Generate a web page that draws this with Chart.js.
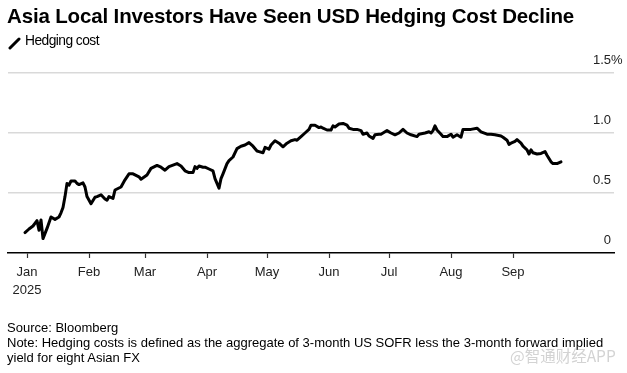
<!DOCTYPE html>
<html>
<head>
<meta charset="utf-8">
<script src="https://cdn.jsdelivr.net/npm/chart.js@4.4.1/dist/chart.umd.min.js"></script>
<style>
  html, body { margin: 0; padding: 0; background: #fff; }
  body { width: 627px; height: 373px; position: relative; overflow: hidden; font-family: "Liberation Sans", Arial, sans-serif; }
  #wrap { position: absolute; left: 0; top: 0; width: 627px; height: 373px; }
  .title { position: absolute; left: 7px; top: 4px; font-weight: bold; font-size: 20.5px; color: #000; letter-spacing: -0.15px; white-space: nowrap; }
  .legend { position: absolute; left: 8px; top: 33px; font-size: 13.8px; color: #000; letter-spacing: -0.55px; white-space: nowrap; }
  .legend svg { position: absolute; left: 0; top: 3px; }
  .legend span { position: absolute; left: 17px; top: 0; }
  .foot { position: absolute; left: 7px; font-size: 13px; color: #000; letter-spacing: 0; white-space: nowrap; }
  .wm { position: absolute; left: 510px; top: 344px; font-family: "Noto Sans CJK SC", sans-serif; font-size: 15.5px; color: #d3d3d3; white-space: nowrap; }
</style>
</head>
<body>
<div id="wrap"><canvas id="c" width="627" height="373"></canvas></div>
<div class="title">Asia Local Investors Have Seen USD Hedging Cost Decline</div>
<div class="legend"><svg width="14" height="14"><line x1="2" y1="12" x2="11" y2="3" stroke="#000" stroke-width="3" stroke-linecap="round"/></svg><span>Hedging cost</span></div>
<div class="foot" style="top:320px">Source: Bloomberg</div>
<div class="foot" style="top:335px">Note: Hedging costs is defined as the aggregate of 3-month US SOFR less the 3-month forward implied</div>
<div class="foot" style="top:350px">yield for eight Asian FX</div>
<div class="wm">@智通财经APP</div>
<script>
// ---- data ----
const dates = [
 "2024-12-31","2025-01-02","2025-01-04","2025-01-06","2025-01-07","2025-01-08","2025-01-09","2025-01-11",
 "2025-01-13","2025-01-15","2025-01-17","2025-01-18","2025-01-19","2025-01-20","2025-01-21","2025-01-22",
 "2025-01-23","2025-01-25","2025-01-26","2025-01-27","2025-01-29","2025-01-30","2025-01-31","2025-02-02",
 "2025-02-04","2025-02-05","2025-02-07","2025-02-09","2025-02-10","2025-02-11","2025-02-13","2025-02-14",
 "2025-02-17","2025-02-19","2025-02-21","2025-02-23","2025-02-26","2025-02-27","2025-03-02","2025-03-04",
 "2025-03-07","2025-03-09","2025-03-11","2025-03-13","2025-03-17","2025-03-19","2025-03-21","2025-03-23",
 "2025-03-25","2025-03-26","2025-03-27","2025-03-28","2025-03-30","2025-03-31","2025-04-02","2025-04-04",
 "2025-04-05","2025-04-07","2025-04-08","2025-04-09","2025-04-11","2025-04-12","2025-04-14","2025-04-16",
 "2025-04-18","2025-04-20","2025-04-22","2025-04-24","2025-04-26","2025-04-27","2025-04-29","2025-04-30",
 "2025-05-02","2025-05-03","2025-05-05","2025-05-07","2025-05-09","2025-05-11","2025-05-13","2025-05-15",
 "2025-05-16","2025-05-18","2025-05-20","2025-05-22","2025-05-23","2025-05-25","2025-05-27","2025-05-28",
 "2025-05-29","2025-05-31","2025-06-02","2025-06-03","2025-06-04","2025-06-06","2025-06-08","2025-06-10",
 "2025-06-11","2025-06-13","2025-06-15","2025-06-17","2025-06-18","2025-06-20","2025-06-21","2025-06-23",
 "2025-06-24","2025-06-26","2025-06-27","2025-06-29","2025-06-30","2025-07-02","2025-07-04","2025-07-06",
 "2025-07-08","2025-07-10","2025-07-12","2025-07-15","2025-07-16","2025-07-19","2025-07-21","2025-07-22",
 "2025-07-23","2025-07-24","2025-07-25","2025-07-27","2025-07-28","2025-07-30","2025-08-01","2025-08-02",
 "2025-08-04","2025-08-06","2025-08-07","2025-08-09","2025-08-11","2025-08-14","2025-08-16","2025-08-19",
 "2025-08-21","2025-08-23","2025-08-26","2025-08-27","2025-08-29","2025-08-30","2025-08-31","2025-09-02",
 "2025-09-03","2025-09-05","2025-09-06","2025-09-08","2025-09-09","2025-09-10","2025-09-11","2025-09-13",
 "2025-09-15","2025-09-17","2025-09-18","2025-09-20","2025-09-21","2025-09-23","2025-09-25"
];
const hedgingCost = [
 0.17,0.20,0.225,0.27,0.19,0.275,0.12,0.205,
 0.30,0.28,0.30,0.335,0.38,0.47,0.58,0.565,
 0.60,0.60,0.58,0.57,0.585,0.55,0.47,0.41,
 0.465,0.47,0.485,0.45,0.44,0.47,0.455,0.525,
 0.55,0.61,0.66,0.66,0.635,0.615,0.65,0.705,
 0.73,0.715,0.69,0.72,0.745,0.725,0.685,0.67,
 0.67,0.72,0.705,0.725,0.715,0.715,0.70,0.685,
 0.62,0.54,0.62,0.66,0.745,0.77,0.80,0.87,
 0.89,0.90,0.92,0.89,0.85,0.845,0.835,0.88,
 0.865,0.90,0.935,0.915,0.885,0.915,0.935,0.945,
 0.94,0.97,1.00,1.03,1.065,1.065,1.045,1.05,
 1.04,1.025,1.025,1.06,1.05,1.075,1.08,1.065,
 1.04,1.03,1.03,1.02,0.99,1.00,0.975,0.955,
 0.985,0.99,0.99,1.01,1.02,1.00,0.985,1.00,
 1.03,1.00,0.985,0.97,0.99,1.00,1.01,1.00,
 1.02,1.06,1.025,0.99,0.97,0.97,0.99,0.965,
 0.985,0.965,1.03,1.03,1.03,1.04,1.01,0.99,
 0.99,0.985,0.975,0.965,0.94,0.905,0.915,0.93,
 0.945,0.915,0.89,0.86,0.825,0.86,0.835,0.825,
 0.83,0.845,0.815,0.76,0.745,0.745,0.76
];
const monthStarts = ["2025-01-01","2025-02-01","2025-03-01","2025-04-01","2025-05-01","2025-06-01","2025-07-01","2025-08-01","2025-09-01"];
const monthLabels = ["Jan","Feb","Mar","Apr","May","Jun","Jul","Aug","Sep"];
const yearLabel = "2025";
const yTickValues = [0, 0.5, 1.0, 1.5];
const yTickLabels = ["0", "0.5", "1.0", "1.5"];

// ---- helpers ----
const DAY = 86400000;
const origin = Date.parse("2025-01-01");
const toDay = d => (Date.parse(d) - origin) / DAY;
const points = dates.map((d, i) => ({ x: toDay(d), y: hedgingCost[i] }));
const monthDays = monthStarts.map(toDay);

const yLabelPlugin = {
  id: 'yLabels',
  afterDraw(chart) {
    const ctx = chart.ctx, ys = chart.scales.y, area = chart.chartArea;
    ctx.save();
    ctx.font = '13px "Liberation Sans", Arial, sans-serif';
    ctx.fillStyle = '#222';
    ctx.textBaseline = 'middle';
    yTickValues.forEach((v, i) => {
      const py = ys.getPixelForValue(v) - 13;
      ctx.textAlign = 'right';
      ctx.fillText(yTickLabels[i], area.right - 3, py);
      if (i === yTickValues.length - 1) {
        ctx.textAlign = 'left';
        ctx.fillText('%', area.right - 3, py);
      }
    });
    ctx.restore();
  }
};

new Chart(document.getElementById('c'), {
  type: 'line',
  data: {
    datasets: [{
      label: 'Hedging cost',
      data: points,
      borderColor: '#000',
      borderWidth: 3,
      pointRadius: 0,
      tension: 0,
      borderJoinStyle: 'round',
      borderCapStyle: 'round'
    }]
  },
  options: {
    responsive: false,
    animation: false,
    devicePixelRatio: 1,
    layout: { padding: { top: 73, left: 8, right: 13, bottom: 0 } },
    plugins: { legend: { display: false }, tooltip: { enabled: false } },
    scales: {
      x: {
        type: 'linear',
        min: -9.5,
        max: 293.5,
        afterFit: s => { s.height = 120; },
        afterBuildTicks: s => { s.ticks = monthDays.map(v => ({ value: v })); },
        ticks: {
          autoSkip: false,
          maxRotation: 0,
          padding: 5,
          color: '#222',
          font: { family: '"Liberation Sans", Arial, sans-serif', size: 13, lineHeight: 1.385 },
          callback: (v, i) => i === 0 ? [monthLabels[i], yearLabel] : monthLabels[i]
        },
        grid: { drawOnChartArea: false, drawTicks: true, tickLength: 5, tickWidth: 1.2, tickColor: '#333' },
        border: { display: true, color: '#000', width: 1.5 }
      },
      y: {
        position: 'right',
        min: 0,
        max: 1.5,
        afterFit: s => { s.width = 0; },
        afterBuildTicks: s => { s.ticks = yTickValues.map(v => ({ value: v })); },
        ticks: { display: false },
        grid: {
          drawTicks: false,
          lineWidth: 1.5,
          color: ctx => ctx.tick && ctx.tick.value === 0 ? 'rgba(0,0,0,0)' : '#d9d9d9'
        },
        border: { display: false }
      }
    }
  },
  plugins: [yLabelPlugin]
});
</script>
</body>
</html>
